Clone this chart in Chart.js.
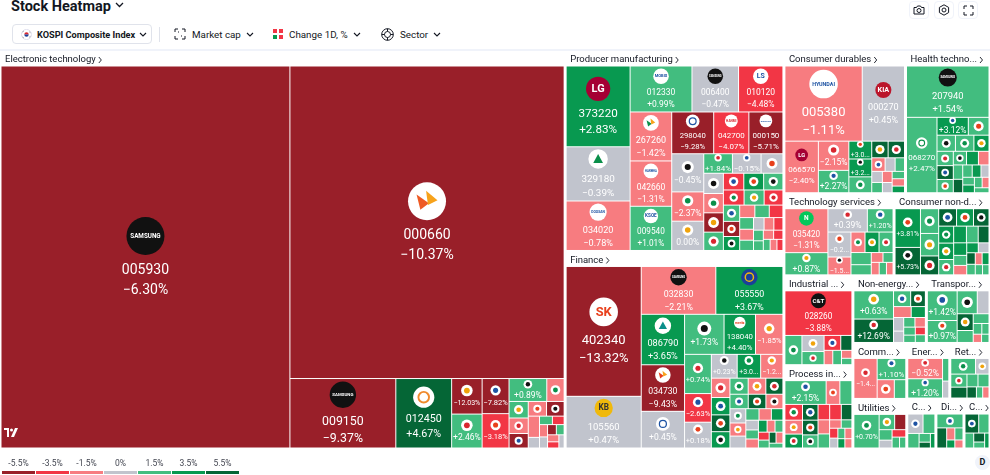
<!DOCTYPE html>
<html>
<head>
<meta charset="utf-8">
<title>Stock Heatmap</title>
<script src="https://cdn.jsdelivr.net/npm/chart.js@4.4.1/dist/chart.umd.min.js"></script>
<style>
html, body { margin: 0; padding: 0; background: #fff; }
body { width: 990px; height: 475px; position: relative; overflow: hidden; font-family: Roboto, "Noto Sans", sans-serif; color: #131722; }
#title { position: absolute; left: 11px; top: -2px; font-size: 14.5px; font-weight: 700; white-space: nowrap; }
#title svg { margin-left: 4px; vertical-align: 3px; }
.tb { position: absolute; top: 24px; height: 20px; display: flex; align-items: center; font-size: 9.8px; white-space: nowrap; }
.tb svg { flex: none; }
.tb .lbl { margin: 0 5px 0 6px; }
#idx { left: 12px; width: 140px; border: 1px solid #e0e3eb; border-radius: 4px; padding: 0 0 0 8px; box-sizing: border-box; font-weight: 700; font-size: 9.2px; }
#idx .lbl { margin: 0 4px 0 5px; }
#sep { position: absolute; left: 159px; top: 27px; width: 1px; height: 15px; background: #e0e3eb; }
.ico { position: absolute; top: 1px; width: 18px; height: 16px; border: 1px solid #f0f3fa; border-radius: 4px; display: flex; align-items: center; justify-content: center; }
#topline { position: absolute; left: 0; top: 49px; width: 990px; height: 2px; background: #f0f3fa; }
#chartbox { position: absolute; left: 0; top: 51px; width: 990px; height: 398px; }
#legend { position: absolute; left: 2px; top: 458px; display: flex; gap: 1px; }
#legend div { width: 33px; text-align: center; font-size: 8.5px; color: #434651; }
#legend span { display: block; height: 3px; margin-top: 3px; }
#dbadge { position: absolute; left: 975px; top: 455px; width: 15px; height: 15px; border-radius: 50%; background: #f0f3fa; font-size: 9px; font-weight: 700; text-align: center; line-height: 15px; }
#tvlogo { position: absolute; left: 4px; top: 428px; }
</style>
</head>
<body>
<div id="title">Stock Heatmap<svg width="9" height="6" viewBox="0 0 9 6"><path d="M1 1l3.5 3.5L8 1" fill="none" stroke="#131722" stroke-width="1.3"/></svg></div>

<div class="tb" id="idx">
  <svg width="11" height="11" viewBox="0 0 12 12"><circle cx="6" cy="6" r="5.5" fill="#fff" stroke="#dde"/><path d="M3.6 6a2.4 2.4 0 0 1 4.8 0z" fill="#d8262f"/><path d="M3.6 6a2.4 2.4 0 0 0 4.8 0z" fill="#1b3f9a"/><path d="M1.8 3.2l1 -0.7M9.2 3.2l1 0.7M1.8 8.8l1 0.7M9.2 8.8l1 -0.7" stroke="#333" stroke-width="0.7"/></svg>
  <span class="lbl">KOSPI Composite Index</span>
  <svg width="8" height="5" viewBox="0 0 8 5"><path d="M1 1l3 3 3-3" fill="none" stroke="#131722" stroke-width="1.1"/></svg>
</div>
<div id="sep"></div>
<div class="tb" style="left:174px">
  <svg width="12" height="12" viewBox="0 0 12 12" fill="none" stroke="#131722" stroke-width="1"><path d="M1 4V1h3M8 1h3v3M11 8v3H8M4 11H1V8"/><path d="M4 4h1M7 8h1" stroke-dasharray="1 1"/></svg>
  <span class="lbl">Market cap</span>
  <svg width="8" height="5" viewBox="0 0 8 5"><path d="M1 1l3 3 3-3" fill="none" stroke="#131722" stroke-width="1.1"/></svg>
</div>
<div class="tb" style="left:273px">
  <svg width="10" height="10" viewBox="0 0 10 10"><rect x="0" y="0" width="4" height="4" fill="#f23645"/><rect x="6" y="0" width="4" height="4" fill="#f23645"/><rect x="0" y="6" width="4" height="4" fill="#089950"/><rect x="6" y="6" width="4" height="4" fill="#f23645"/></svg>
  <span class="lbl">Change 1D, %</span>
  <svg width="8" height="5" viewBox="0 0 8 5"><path d="M1 1l3 3 3-3" fill="none" stroke="#131722" stroke-width="1.1"/></svg>
</div>
<div class="tb" style="left:381px">
  <svg width="13" height="13" viewBox="0 0 13 13" fill="none" stroke="#131722" stroke-width="1"><circle cx="6.5" cy="6.5" r="5.8"/><circle cx="6.5" cy="6.5" r="3"/><path d="M6.5 0.7v2.8M6.5 9.5v2.8M0.7 6.5h2.8M9.5 6.5h2.8"/></svg>
  <span class="lbl">Sector</span>
  <svg width="8" height="5" viewBox="0 0 8 5"><path d="M1 1l3 3 3-3" fill="none" stroke="#131722" stroke-width="1.1"/></svg>
</div>

<div class="ico" style="left:909px"><svg width="12" height="10" viewBox="0 0 12 10" fill="none" stroke="#131722" stroke-width="1"><path d="M1 2.5h2.5l1-1.5h3l1 1.5H11v6.5H1z"/><circle cx="6" cy="5.5" r="2"/></svg></div>
<div class="ico" style="left:934px"><svg width="12" height="12" viewBox="0 0 12 12" fill="none" stroke="#131722" stroke-width="1"><path d="M6 0.8l4.6 2.6v5.2L6 11.2 1.4 8.6V3.4z"/><circle cx="6" cy="6" r="2"/></svg></div>
<div class="ico" style="left:958px"><svg width="11" height="11" viewBox="0 0 11 11" fill="none" stroke="#131722" stroke-width="1"><path d="M1 4V1h3M7 1h3v3M10 7v3H7M4 10H1V7"/></svg></div>

<div id="topline"></div>
<div id="chartbox"><canvas id="heatmap" width="990" height="398"></canvas></div>

<svg id="tvlogo" width="14" height="9" viewBox="0 0 14 9"><path d="M0 0h5v9H3V2H0z" fill="#fff"/><circle cx="7.5" cy="2" r="1.5" fill="#fff"/><path d="M11 0h3l-4 9H7z" fill="#fff"/></svg>

<div id="legend"></div>
<div id="dbadge">D</div>

<script>
// --- data: [ticker, market cap (relative), change 1D %] ---
var SECTOR_NAMES = [
	"Electronic technology", "Producer manufacturing", "Finance", "Consumer durables",
	"Health technology", "Technology services", "Consumer non-durables", "Industrial services",
	"Process industries", "Non-energy minerals", "Transportation", "Communications",
	"Utilities", "Retail trade", "Energy minerals", "Commercial services",
	"Consumer services", "Distribution services"
];

var electronicTechnology = [
	["005930", 111.0, -6.30], ["000660", 86.2, -10.37], ["009150", 7.4, -9.37], ["012450", 3.9, 4.67],
	["", 1.09, -12.03], ["", 1.04, 2.46], ["", 0.95, -7.82], ["", 0.93, -3.18], ["", 0.87, 0.89],
	["", 0.40, -1.6], ["", 0.32, 1.6], ["", 0.30, -1.3], ["", 0.28, -6.1], ["", 0.27, -1.9], ["", 0.26, -5.2], ["", 0.24, -1.1],
	["", 0.12, -0.2], ["", 0.11, 1.3], ["", 0.10, -3.0], ["", 0.10, -1.2], ["", 0.09, -0.3],
	["", 0.09, -5.0], ["", 0.08, 1.1], ["", 0.08, -1.4], ["", 0.07, -2.8], ["", 0.07, 0.3]
];
var producerManufacturing = [
	["373220", 5.45, 2.83], ["329180", 3.66, -0.39], ["034020", 3.34, -0.78], ["012330", 3.0, 0.99],
	["006400", 2.26, -0.47], ["010120", 2.15, -4.48], ["267260", 2.15, -1.42], ["042660", 1.99, -1.31],
	["009540", 1.94, 1.01], ["298040", 1.85, -9.28], ["042700", 1.55, -4.07], ["000150", 1.50, -5.71],
	["", 1.29, -0.45], ["", 0.99, -2.37], ["", 0.99, 0.00], ["", 0.59, 1.84], ["", 0.59, -0.15], ["", 0.45, 0.2],
	["", 0.42, -0.3], ["", 0.40, -1.2], ["", 0.40, -5.3], ["", 0.38, 1.4], ["", 0.36, -3.4], ["", 0.35, 2.9],
	["", 0.34, 1.6], ["", 0.33, -3.1], ["", 0.32, 1.2], ["", 0.30, -2.9], ["", 0.28, 1.5], ["", 0.26, -6.0], ["", 0.24, 3.3],
	["", 0.20, -1.1], ["", 0.19, 0.9], ["", 0.18, -3.0], ["", 0.17, 2.1], ["", 0.16, -0.8], ["", 0.15, 1.3],
	["", 0.14, -0.2], ["", 0.13, -1.6], ["", 0.12, -3.5], ["", 0.11, 0.7], ["", 0.10, 1.9], ["", 0.10, -1.4],
	["", 0.09, -2.7], ["", 0.08, 0.6], ["", 0.08, -1.0], ["", 0.07, -3.1]
];
var finance = [
	["402340", 10.3, -13.32], ["105560", 4.1, 0.47], ["032830", 3.77, -2.21], ["055550", 3.39, 3.67],
	["086790", 2.31, 3.65], ["034730", 2.13, -9.43], ["316140", 1.68, 0.45], ["", 1.67, 1.73],
	["138040", 1.33, 4.40], ["", 1.16, -1.85], ["", 1.11, 0.74], ["", 0.81, -2.63], ["", 0.73, 0.18],
	["", 0.65, 0.23], ["", 0.59, 3.0], ["", 0.56, -1.2],
	["", 0.38, -1.5], ["", 0.34, 3.2], ["", 0.33, 4.9], ["", 0.32, 3.4], ["", 0.31, 1.3], ["", 0.30, -1.1],
	["", 0.29, 5.1], ["", 0.28, 1.6], ["", 0.27, 4.7], ["", 0.26, -1.7], ["", 0.24, 0.1], ["", 0.22, -0.9], ["", 0.20, -0.3],
	["", 0.16, 1.2], ["", 0.15, -1.3], ["", 0.14, 3.1], ["", 0.13, -0.4], ["", 0.12, 1.7], ["", 0.12, -1.8],
	["", 0.11, 2.6], ["", 0.10, -0.6], ["", 0.10, 0.9], ["", 0.09, -2.9], ["", 0.09, 1.1], ["", 0.08, 5.0],
	["", 0.08, -1.2], ["", 0.07, 0.8]
];
var consumerDurables = [
	["005380", 6.4, -1.11], ["000270", 3.5, 0.45], ["066570", 1.9, -2.40], ["", 0.98, -2.15], ["", 0.75, 2.27],
	["", 0.45, 3.0], ["", 0.45, 3.2], ["", 0.40, 1.5], ["", 0.30, 5.0], ["", 0.30, 4.8], ["", 0.20, -1.3],
	["", 0.15, 0.2], ["", 0.14, 1.4], ["", 0.13, -0.3], ["", 0.12, 2.2], ["", 0.12, -1.0], ["", 0.11, 0.4],
	["", 0.10, 1.8], ["", 0.10, -0.6], ["", 0.09, 3.5]
];
var healthTechnology = [
	["207940", 4.7, 1.54], ["068270", 2.55, 2.47], ["", 0.62, 3.12], ["", 0.41, 1.2], ["", 0.33, 1.5], ["", 0.33, 1.0],
	["", 0.27, 2.9], ["", 0.26, 1.1], ["", 0.25, 4.9], ["", 0.24, 1.6], ["", 0.20, 0.7], ["", 0.18, 3.3],
	["", 0.16, -1.2], ["", 0.15, 1.3], ["", 0.14, 5.2], ["", 0.13, 0.9], ["", 0.12, 2.8], ["", 0.11, -0.2],
	["", 0.10, 1.4], ["", 0.10, 3.6], ["", 0.09, 0.6], ["", 0.08, -1.5], ["", 0.08, 2.0]
];
var technologyServices = [
	["035420", 2.3, -1.31], ["", 1.16, 0.87], ["", 1.12, 0.39], ["", 0.73, 1.2], ["", 0.70, -0.2], ["", 0.50, -1.5],
	["", 0.35, -1.0], ["", 0.35, 3.0], ["", 0.35, 1.0], ["", 0.30, 1.3], ["", 0.25, 1.7], ["", 0.14, -1.2],
	["", 0.12, 0.9], ["", 0.12, -2.0], ["", 0.11, 1.5], ["", 0.10, -0.7]
];
var consumerNonDurables = [
	["", 1.2, 3.81], ["", 0.85, 5.73], ["", 0.55, 1.3], ["", 0.50, 1.9], ["", 0.42, 5.2], ["", 0.38, 4.8],
	["", 0.36, 3.1], ["", 0.33, 5.0], ["", 0.31, 2.8], ["", 0.30, 3.0], ["", 0.28, 1.4], ["", 0.26, 2.9],
	["", 0.24, 0.8], ["", 0.22, 5.5], ["", 0.20, 3.3], ["", 0.16, 1.1], ["", 0.15, -1.0], ["", 0.14, 2.6],
	["", 0.13, 0.3], ["", 0.12, 4.6], ["", 0.11, 1.2], ["", 0.10, -1.4], ["", 0.10, 3.4], ["", 0.09, 0.9], ["", 0.08, 1.6]
];
var industrialServices = [
	["028260", 3.6, -3.88], ["", 0.60, 1.2], ["", 0.43, -0.2], ["", 0.35, 1.4], ["", 0.30, -3.5],
	["", 0.20, 5.1], ["", 0.15, -1.3], ["", 0.15, 1.1], ["", 0.10, -0.9], ["", 0.08, 2.0]
];
var processIndustries = [
	["", 1.2, 2.15], ["", 0.40, -1.5], ["", 0.35, 1.0], ["", 0.34, -3.2], ["", 0.30, -1.1], ["", 0.30, 3.0],
	["", 0.30, 5.0], ["", 0.28, 4.8], ["", 0.25, 1.3], ["", 0.22, -2.8], ["", 0.22, -3.1], ["", 0.20, 5.3],
	["", 0.20, -1.2], ["", 0.20, 1.5], ["", 0.12, -0.8], ["", 0.11, 2.3], ["", 0.10, -2.6], ["", 0.10, 0.2],
	["", 0.09, 1.0], ["", 0.09, -1.7], ["", 0.08, 3.2], ["", 0.08, -0.5]
];
var nonEnergyMinerals = [
	["", 1.45, 0.63], ["", 1.2, 12.69], ["", 0.35, 1.4], ["", 0.30, 5.1], ["", 0.25, -1.6], ["", 0.20, 3.0],
	["", 0.18, 0.1], ["", 0.15, -0.3], ["", 0.14, 1.2], ["", 0.13, -1.0], ["", 0.12, 2.1], ["", 0.11, 0.8],
	["", 0.10, -2.6], ["", 0.10, 1.5]
];
var transportation = [
	["", 1.15, 1.42], ["", 0.85, 0.97], ["", 0.60, 2.23], ["", 0.35, -0.1], ["", 0.35, 4.9], ["", 0.25, 1.3],
	["", 0.20, 1.6], ["", 0.12, 0.7], ["", 0.10, 2.2], ["", 0.09, -0.6], ["", 0.08, 1.1]
];
var communications = [["", 1.3, -1.4], ["", 0.85, 1.1], ["", 0.45, -0.9], ["", 0.30, 1.2]];
var utilities = [
	["", 1.25, 0.70], ["", 0.35, 1.2], ["", 0.25, -6.0], ["", 0.20, 1.4], ["", 0.15, 0.2], ["", 0.15, -3.0],
	["", 0.12, 1.0], ["", 0.10, 0.9]
];
var retailTrade = [
	["", 0.55, 1.3], ["", 0.30, -0.2], ["", 0.30, 1.5], ["", 0.25, 5.0], ["", 0.20, 1.1], ["", 0.20, 1.8],
	["", 0.15, 4.7], ["", 0.10, 0.6], ["", 0.10, -1.1]
];
var energyMinerals = [["", 1.0, -0.52], ["", 0.95, 1.2], ["", 0.20, 1.3], ["", 0.15, 0.1]];
var commercialServices = [["", 0.45, 0.1], ["", 0.35, 1.2], ["", 0.25, 1.6], ["", 0.15, 0.9], ["", 0.10, 5.0], ["", 0.10, 3.1]];
var consumerServices = [["", 0.40, 5.0], ["", 0.30, 1.4], ["", 0.20, 1.1], ["", 0.15, 4.8], ["", 0.10, 1.3], ["", 0.10, 3.0]];
var distributionServices = [["", 0.55, 1.5], ["", 0.30, 5.0], ["", 0.15, -1.2], ["", 0.15, 1.1], ["", 0.10, 3.2], ["", 0.10, -0.9]];

var SECTOR_ROWS = [
	electronicTechnology, producerManufacturing, finance, consumerDurables,
	healthTechnology, technologyServices, consumerNonDurables, industrialServices,
	processIndustries, nonEnergyMinerals, transportation, communications,
	utilities, retailTrade, energyMinerals, commercialServices,
	consumerServices, distributionServices
];

var LEGEND_TICKS = [-5.5, -3.5, -1.5, 0, 1.5, 3.5, 5.5];

// --- look ---
var FONT = 'Roboto, "Noto Sans", sans-serif';
var W = 990, H = 398, HEADER = 14;

// logo look by ticker: [circle, mark colour, mark]
var LOGO_LOOK = {
	"005930": ["#111111", "#ffffff", "SAMSUNG"],
	"000660": ["#ffffff", "#ee5a24", "wing"],
	"009150": ["#111111", "#ffffff", "SAMSUNG"],
	"012450": ["#ffffff", "#f08a2c", "ring"],
	"373220": ["#a50034", "#ffffff", "LG"],
	"329180": ["#ffffff", "#0a8f4a", "tri"],
	"034020": ["#ffffff", "#1e53a3", "DOOSAN"],
	"012330": ["#ffffff", "#1e53a3", "MOBIS"],
	"006400": ["#111111", "#ffffff", "SAMSUNG"],
	"010120": ["#ffffff", "#1e53a3", "LS"],
	"042660": ["#ffffff", "#1e53a3", "HANWHA"],
	"267260": ["#ffffff", "#0a8f4a", "wing"],
	"042700": ["#ffffff", "#d8262f", "HANMI"],
	"000150": ["#ffffff", "#1e53a3", "DOOSAN"],
	"009540": ["#ffffff", "#1e53a3", "KSOE"],
	"298040": ["#ffffff", "#1e53a3", "ring"],
	"402340": ["#ffffff", "#e8401c", "SK"],
	"105560": ["#f0b90b", "#333333", "KB"],
	"032830": ["#111111", "#ffffff", "SAMSUNG"],
	"055550": ["#1b3f9a", "#f0b90b", "ring"],
	"086790": ["#ffffff", "#0a8f8a", "tri"],
	"034730": ["#ffffff", "#e8401c", "wing"],
	"316140": ["#ffffff", "#1e53a3", "ring"],
	"138040": ["#ffffff", "#e8401c", "meritz"],
	"005380": ["#ffffff", "#1e53a3", "HYUNDAI"],
	"000270": ["#bb162b", "#ffffff", "KIA"],
	"066570": ["#a50034", "#ffffff", "LG"],
	"207940": ["#111111", "#ffffff", "SAMSUNG"],
	"068270": ["#ffffff", "#0a8f4a", "ring"],
	"035420": ["#03c75a", "#ffffff", "N"],
	"028260": ["#111111", "#ffffff", "C&T"]
};
var DEFAULT_MARKS = ["#1e53a3", "#e8401c", "#111111", "#0a8f4a", "#f0a30b", "#d8262f"];

function colorFor(ch) {
	if (ch <= -4.5) return "#991f29";
	if (ch <= -2.5) return "#f23645";
	if (ch <= -0.5) return "#f77c80";
	if (ch < 0.5) return "#c1c4cd";
	if (ch < 2.5) return "#42bd7f";
	if (ch < 4.5) return "#089950";
	return "#056636";
}

function fmtChange(ch) {
	if (ch > 0) return "+" + ch.toFixed(2) + "%";
	if (ch < 0) return "\u2212" + Math.abs(ch).toFixed(2) + "%";
	return "0.00%";
}

// cut with "..." until it fits, keep at least two letters
function fitText(ctx, s, maxW) {
	if (ctx.measureText(s).width <= maxW) return s;
	for (var n = s.length - 1; n > 2; n--) {
		var t = s.slice(0, n) + "...";
		if (ctx.measureText(t).width <= maxW) return t;
	}
	var t2 = s.slice(0, 2) + "...";
	return ctx.measureText(t2).width <= maxW + 4 ? t2 : s.slice(0, 1) + "...";
}

function clamp(v, a, b) { return Math.max(a, Math.min(b, v)); }

// squarified treemap (same rule as d3, ratio 1)
function squarify(nodes, x0, y0, x1, y1) {
	nodes.sort(function(a, b) { return b.v - a.v; });
	var value = 0;
	nodes.forEach(function(n) { value += n.v; });
	var i0 = 0, n = nodes.length;
	while (i0 < n) {
		var dx = x1 - x0, dy = y1 - y0;
		var i1 = i0;
		var sum = nodes[i1++].v, minV = sum, maxV = sum;
		var alpha = Math.max(dy / dx, dx / dy) / value;
		var beta = sum * sum * alpha;
		var minRatio = Math.max(maxV / beta, beta / minV);
		for (; i1 < n; i1++) {
			var nv = nodes[i1].v;
			var mn = Math.min(minV, nv), mx = Math.max(maxV, nv);
			var s2 = sum + nv;
			beta = s2 * s2 * alpha;
			var r = Math.max(mx / beta, beta / mn);
			if (r > minRatio) break;
			sum = s2; minRatio = r; minV = mn; maxV = mx;
		}
		var row = nodes.slice(i0, i1);
		if (dx < dy) {
			var yy = i1 < n ? y0 + dy * sum / value : y1;
			var x = x0;
			row.forEach(function(nd) {
				var ww = dx * nd.v / sum;
				nd.x0 = x; nd.x1 = x + ww; nd.y0 = y0; nd.y1 = yy; x += ww;
			});
			y0 = yy;
		} else {
			var xx = i1 < n ? x0 + dx * sum / value : x1;
			var y = y0;
			row.forEach(function(nd) {
				var hh = dy * nd.v / sum;
				nd.y0 = y; nd.y1 = y + hh; nd.x0 = x0; nd.x1 = xx; y += hh;
			});
			x0 = xx;
		}
		value -= sum;
		i0 = i1;
	}
	return nodes;
}

function drawLogo(ctx, cx, cy, r, ticker, k) {
	var look = LOGO_LOOK[ticker] || ["#ffffff", DEFAULT_MARKS[k % DEFAULT_MARKS.length], "dot"];
	ctx.beginPath();
	ctx.arc(cx, cy, r, 0, Math.PI * 2);
	ctx.fillStyle = look[0];
	ctx.fill();
	ctx.fillStyle = look[1];
	ctx.strokeStyle = look[1];
	var mark = look[2];
	if (mark == "dot") {
		ctx.beginPath();
		ctx.arc(cx, cy, r * 0.5, 0, Math.PI * 2);
		ctx.fill();
	} else if (mark == "ring") {
		ctx.lineWidth = Math.max(1, r * 0.18);
		ctx.beginPath();
		ctx.arc(cx, cy, r * 0.5, 0, Math.PI * 2);
		ctx.stroke();
	} else if (mark == "tri") {
		ctx.beginPath();
		ctx.moveTo(cx, cy - r * 0.5);
		ctx.lineTo(cx + r * 0.5, cy + r * 0.4);
		ctx.lineTo(cx - r * 0.5, cy + r * 0.4);
		ctx.closePath();
		ctx.fill();
	} else if (mark == "wing") {
		ctx.beginPath();
		ctx.moveTo(cx - r * 0.55, cy - r * 0.35);
		ctx.lineTo(cx + r * 0.1, cy + r * 0.1);
		ctx.lineTo(cx - r * 0.35, cy + r * 0.45);
		ctx.closePath();
		ctx.fill();
		ctx.fillStyle = "#f7a21b";
		ctx.beginPath();
		ctx.moveTo(cx - r * 0.05, cy - r * 0.55);
		ctx.lineTo(cx + r * 0.55, cy - r * 0.05);
		ctx.lineTo(cx + r * 0.05, cy + r * 0.2);
		ctx.closePath();
		ctx.fill();
	} else {
		var fs = r * 0.9;
		ctx.font = "700 " + fs + "px " + FONT;
		var tw = ctx.measureText(mark).width;
		if (tw > r * 1.6) fs = fs * r * 1.6 / tw;
		ctx.font = "700 " + fs + "px " + FONT;
		ctx.textAlign = "center";
		ctx.textBaseline = "middle";
		ctx.fillText(mark, cx, cy + fs * 0.05);
	}
}

// shrink a little before cutting the text
function fitSmall(ctx, s, maxW, fs) {
	for (var f = fs; f >= 7; f -= 0.5) {
		ctx.font = f + "px " + FONT;
		if (ctx.measureText(s).width <= maxW) return s;
	}
	return fitText(ctx, s, maxW);
}

function drawCell(ctx, x0, y0, x1, y1, ticker, ch, k) {
	var w = x1 - x0, h = y1 - y0;
	ctx.fillStyle = colorFor(ch);
	ctx.fillRect(x0 + 0.5, y0 + 0.5, w - 1, h - 1);
	var s = Math.min(w, h);
	var cx = (x0 + x1) / 2, cy = (y0 + y1) / 2;
	ctx.textAlign = "center";
	ctx.textBaseline = "middle";
	if (ticker && w >= 30 && h >= 38) {
		var fs = clamp(4 + s * 0.12, 8, 14);
		var r = clamp(s * 0.19, 5, 19);
		var g1 = fs * 0.6, g2 = fs * 0.4;
		var total = 2 * r + g1 + fs + g2 + fs;
		if (total > h - 5) {
			var q = (h - 5) / total;
			r *= q; g1 *= q; g2 *= q;
			fs = Math.max(7, fs * q);
			total = 2 * r + g1 + fs + g2 + fs;
		}
		var top = cy - total / 2;
		drawLogo(ctx, cx, top + r, r, ticker, k);
		ctx.fillStyle = "#ffffff";
		ctx.textAlign = "center";
		ctx.textBaseline = "middle";
		var tk = fitSmall(ctx, ticker, w - 3, fs);
		ctx.fillText(tk, cx, top + 2 * r + g1 + fs / 2);
		var tc = fitSmall(ctx, fmtChange(ch), w - 3, fs);
		ctx.fillText(tc, cx, top + 2 * r + g1 + fs + g2 + fs / 2);
	} else if (w >= 22 && h >= 17) {
		var fs2 = 8.5;
		var r2 = clamp(s * 0.19, 3, 7);
		var top2 = cy - (2 * r2 + 3 + fs2) / 2;
		drawLogo(ctx, cx, top2 + r2, r2, ticker, k);
		ctx.fillStyle = "#ffffff";
		ctx.textAlign = "center";
		ctx.textBaseline = "middle";
		var txt = fitSmall(ctx, fmtChange(ch), w - 2, fs2);
		ctx.fillText(txt, cx, top2 + 2 * r2 + 3 + fs2 / 2);
	} else if (w >= 13 && h >= 13) {
		drawLogo(ctx, cx, cy, Math.min(w, h) * 0.28, ticker, k);
	}
}

function drawHeader(ctx, x0, y0, x1, name) {
	var maxW = x1 - x0 - 14;
	ctx.font = "9.5px " + FONT;
	ctx.fillStyle = "#131722";
	ctx.textAlign = "left";
	ctx.textBaseline = "middle";
	var t = fitText(ctx, name, maxW);
	var ty = y0 + HEADER / 2 + 1;
	ctx.fillText(t, x0 + 4, ty);
	var ex = x0 + 4 + ctx.measureText(t).width + 3;
	ctx.strokeStyle = "#131722";
	ctx.lineWidth = 0.9;
	ctx.beginPath();
	ctx.moveTo(ex, ty - 3);
	ctx.lineTo(ex + 2.5, ty);
	ctx.lineTo(ex, ty + 3);
	ctx.stroke();
}

var treemapPlugin = {
	id: "treemap",
	afterDatasetsDraw: function(chart) {
		var ctx = chart.ctx;
		var xs = chart.scales.x, ys = chart.scales.y;
		var sectors = SECTOR_NAMES.map(function(name, i) {
			var v = 0;
			SECTOR_ROWS[i].forEach(function(r) { v += r[1]; });
			return { name: name, rows: SECTOR_ROWS[i], v: v };
		});
		squarify(sectors, xs.min, ys.min, xs.max, ys.max);
		ctx.save();
		var k = 0;
		sectors.forEach(function(sec) {
			var sx0 = sec.x0 + 1, sx1 = sec.x1 - 1, sy0 = sec.y0 + 1, sy1 = sec.y1 - 1;
			drawHeader(ctx, xs.getPixelForValue(sx0), ys.getPixelForValue(sy0), xs.getPixelForValue(sx1), sec.name);
			var cells = sec.rows.map(function(r) { return { t: r[0], v: r[1], ch: r[2] }; });
			squarify(cells, sx0, sy0 + HEADER, sx1, sy1);
			cells.forEach(function(c) {
				drawCell(ctx,
					xs.getPixelForValue(c.x0), ys.getPixelForValue(c.y0),
					xs.getPixelForValue(c.x1), ys.getPixelForValue(c.y1),
					c.t, c.ch, k++);
			});
		});
		ctx.restore();
	}
};

new Chart(document.getElementById("heatmap").getContext("2d"), {
	type: "scatter",
	data: { datasets: [{ data: [] }] },
	options: {
		responsive: false,
		animation: false,
		events: [],
		layout: { padding: 0 },
		plugins: { legend: { display: false }, tooltip: { enabled: false } },
		scales: {
			x: { type: "linear", min: 0, max: W, display: false },
			y: { type: "linear", min: 0, max: H, reverse: true, display: false }
		}
	},
	plugins: [treemapPlugin]
});

// legend strip
var legend = document.getElementById("legend");
LEGEND_TICKS.forEach(function(t) {
	var d = document.createElement("div");
	d.textContent = (t < 0 ? "-" : "") + Math.abs(t) + "%";
	var bar = document.createElement("span");
	bar.style.background = colorFor(t);
	d.appendChild(bar);
	legend.appendChild(d);
});
</script>
</body>
</html>
